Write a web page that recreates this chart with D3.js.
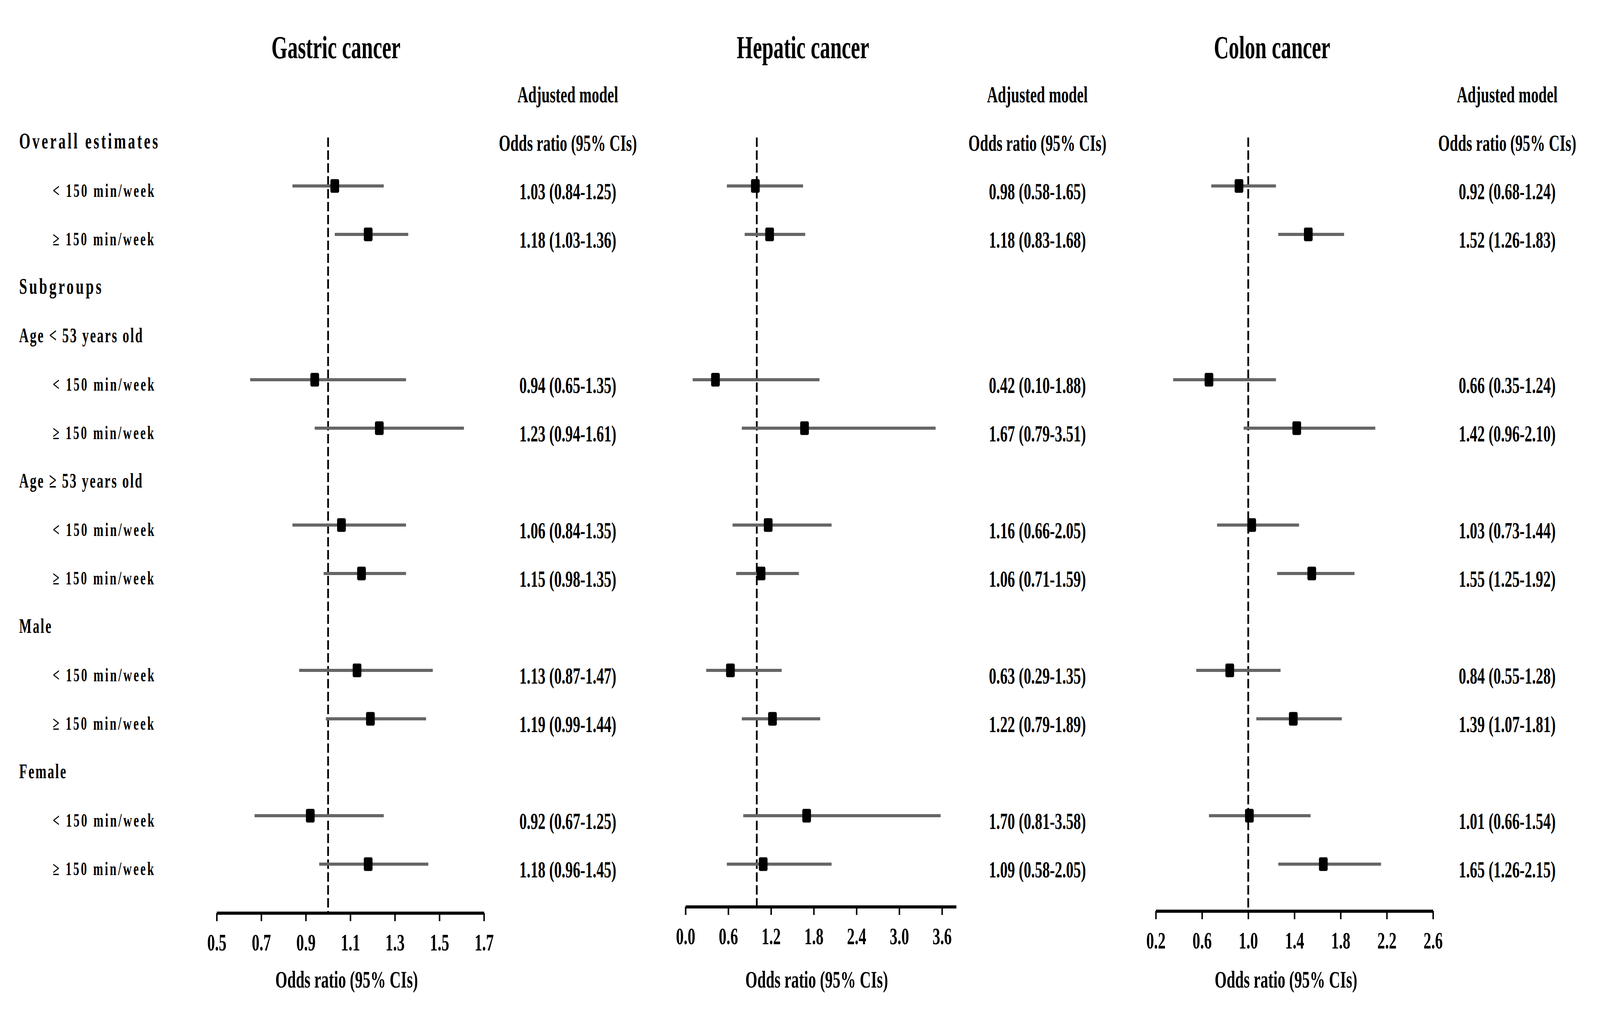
<!DOCTYPE html>
<html>
<head>
<meta charset="utf-8">
<script src="https://cdn.jsdelivr.net/npm/d3@7"></script>
<style>
  html, body { margin: 0; padding: 0; background: #fff; overflow: hidden; }
  #chart svg { display: block; width: 100vw; height: 100vh; }
  svg text { font-family: "Liberation Serif", "Times New Roman", serif; font-weight: bold; fill: #000; }
</style>
</head>
<body>
<div id="chart"></div>
<script>
// row labels down the left side (only drawn once, next to the first panel)
const rowLabels = [
  "Overall estimates", "< 150 min/week", "\u2265 150 min/week",
  "Subgroups",
  "Age < 53 years old", "< 150 min/week", "\u2265 150 min/week",
  "Age \u2265 53 years old", "< 150 min/week", "\u2265 150 min/week",
  "Male", "< 150 min/week", "\u2265 150 min/week",
  "Female", "< 150 min/week", "\u2265 150 min/week"
];
// 0 = main heading, 2 = subgroup heading, 1 = indented estimate row
const rowLevels = [0, 1, 1, 0, 2, 1, 1, 2, 1, 1, 2, 1, 1, 2, 1, 1];
// which rows carry an estimate
const estimateRows = [1, 2, 5, 6, 8, 9, 11, 12, 14, 15];

const gastricOR = [1.03, 1.18, 0.94, 1.23, 1.06, 1.15, 1.13, 1.19, 0.92, 1.18];
const gastricLo = [0.84, 1.03, 0.65, 0.94, 0.84, 0.98, 0.87, 0.99, 0.67, 0.96];
const gastricHi = [1.25, 1.36, 1.35, 1.61, 1.35, 1.35, 1.47, 1.44, 1.25, 1.45];

const hepaticOR = [0.98, 1.18, 0.42, 1.67, 1.16, 1.06, 0.63, 1.22, 1.70, 1.09];
const hepaticLo = [0.58, 0.83, 0.10, 0.79, 0.66, 0.71, 0.29, 0.79, 0.81, 0.58];
const hepaticHi = [1.65, 1.68, 1.88, 3.51, 2.05, 1.59, 1.35, 1.89, 3.58, 2.05];

const colonOR = [0.92, 1.52, 0.66, 1.42, 1.03, 1.55, 0.84, 1.39, 1.01, 1.65];
const colonLo = [0.68, 1.26, 0.35, 0.96, 0.73, 1.25, 0.55, 1.07, 0.66, 1.26];
const colonHi = [1.24, 1.83, 1.24, 2.10, 1.44, 1.92, 1.28, 1.81, 1.54, 2.15];

const gastricTicks = [0.5, 0.7, 0.9, 1.1, 1.3, 1.5, 1.7];
const hepaticTicks = [0.0, 0.6, 1.2, 1.8, 2.4, 3.0, 3.6];
const colonTicks = [0.2, 0.6, 1.0, 1.4, 1.8, 2.2, 2.6];

// drawing is done in a 6430 x 2634 coordinate space and stretched to the window
const width = 6430, height = 2634;

// layout of the three panels
const panels = [
  { title: "Gastric cancer", or: gastricOR, lo: gastricLo, hi: gastricHi, ticks: gastricTicks,
    domain: [0.5, 1.7], range: [871, 1945], axisY: 2337, titleX: 1350, axisTitleX: 1393, colX: 2282 },
  { title: "Hepatic cancer", or: hepaticOR, lo: hepaticLo, hi: hepaticHi, ticks: hepaticTicks,
    domain: [0, 3.8], range: [2755, 3843], axisY: 2321, titleX: 3227, axisTitleX: 3282, colX: 4169 },
  { title: "Colon cancer", or: colonOR, lo: colonLo, hi: colonHi, ticks: colonTicks,
    domain: [0.2, 2.6], range: [4645, 5759], axisY: 2332, titleX: 5112, axisTitleX: 5168, colX: 6057 }
];

// left label styles per level
const labelSize = { 0: 58, 1: 48, 2: 53 };
const labelTrack = { 0: 8, 1: 6.7, 2: 4.7 };

const svg = d3.select("#chart").append("svg")
    .attr("viewBox", [0, 0, width, height])
    .attr("preserveAspectRatio", "none");

svg.append("rect").attr("width", width).attr("height", height).attr("fill", "#fff");

// row positions
const y = d3.scaleLinear().domain([0, 15]).range([352, 2212]);
const valueShift = 34; // baseline of the estimate text below the bar line

// left labels
svg.append("g")
  .selectAll("text")
  .data(rowLabels)
  .join("text")
    .attr("x", (d, i) => rowLevels[i] === 1 ? 212 : 77)
    .attr("y", (d, i) => y(i) + 28)
    .style("font-size", (d, i) => labelSize[rowLevels[i]] + "px")
    .style("letter-spacing", (d, i) => labelTrack[rowLevels[i]] + "px")
    .text(d => d);

const fmt = d3.format(".2f");

panels.forEach(p => {
  const x = d3.scaleLinear().domain(p.domain).range(p.range);
  const g = svg.append("g");

  const rows = p.or.map((v, k) => ({ row: estimateRows[k], or: v, lo: p.lo[k], hi: p.hi[k] }));

  // panel title
  g.append("text")
    .attr("x", p.titleX)
    .attr("y", 149)
    .attr("text-anchor", "middle")
    .style("font-size", "83px")
    .text(p.title);

  // column headings
  g.append("text")
    .attr("x", p.colX)
    .attr("y", y(-1) + valueShift)
    .attr("text-anchor", "middle")
    .style("font-size", "60px")
    .text("Adjusted model");
  g.append("text")
    .attr("x", p.colX)
    .attr("y", y(0) + valueShift)
    .attr("text-anchor", "middle")
    .style("font-size", "60px")
    .text("Odds ratio (95% CIs)");

  // reference line at OR = 1
  g.append("line")
    .attr("x1", x(1)).attr("x2", x(1))
    .attr("y1", y(0)).attr("y2", p.axisY)
    .attr("stroke", "#000")
    .attr("stroke-width", 7)
    .attr("stroke-dasharray", "24,9");

  // confidence intervals
  g.append("g")
    .selectAll("line")
    .data(rows)
    .join("line")
      .attr("x1", d => x(d.lo))
      .attr("x2", d => x(d.hi))
      .attr("y1", d => y(d.row))
      .attr("y2", d => y(d.row))
      .attr("stroke", "#666")
      .attr("stroke-width", 8);

  // point estimates
  const s = 35;
  g.append("g")
    .selectAll("rect")
    .data(rows)
    .join("rect")
      .attr("x", d => x(d.or) - s / 2)
      .attr("y", d => y(d.row) - s / 2)
      .attr("width", s)
      .attr("height", s)
      .attr("rx", 5)
      .attr("fill", "#000");

  // estimate text
  g.append("g")
    .selectAll("text")
    .data(rows)
    .join("text")
      .attr("x", p.colX)
      .attr("y", d => y(d.row) + valueShift)
      .attr("text-anchor", "middle")
      .style("font-size", "60px")
      .text(d => `${fmt(d.or)} (${fmt(d.lo)}-${fmt(d.hi)})`);

  // x axis
  const axis = g.append("g")
    .attr("transform", `translate(0,${p.axisY})`)
    .call(d3.axisBottom(x)
      .tickValues(p.ticks)
      .tickFormat(d3.format(".1f"))
      .tickSize(21)
      .tickSizeOuter(0)
      .tickPadding(31));
  axis.select(".domain")
    .attr("stroke", "#000")
    .attr("stroke-width", 8);
  axis.selectAll(".tick line")
    .attr("stroke", "#000")
    .attr("stroke-width", 6);
  axis.selectAll(".tick text")
    .style("font-family", "'Liberation Serif', 'Times New Roman', serif")
    .style("font-weight", "bold")
    .style("font-size", "62px")
    .attr("fill", "#000");

  g.append("text")
    .attr("x", p.axisTitleX)
    .attr("y", 2528)
    .attr("text-anchor", "middle")
    .style("font-size", "62px")
    .text("Odds ratio (95% CIs)");
});
</script>
</body>
</html>
